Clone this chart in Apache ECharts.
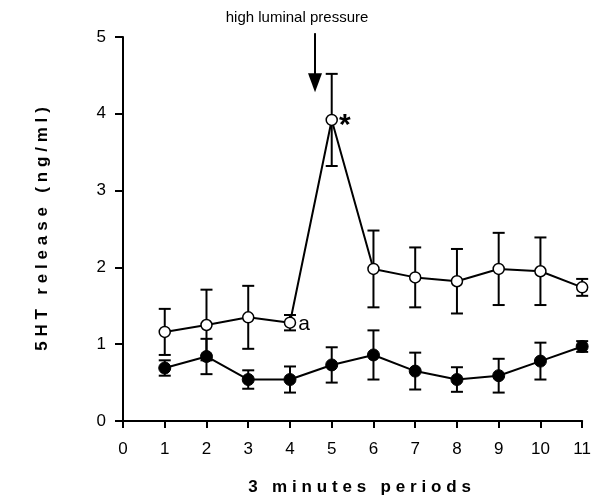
<!DOCTYPE html>
<html>
<head>
<meta charset="utf-8">
<script src="https://cdn.jsdelivr.net/npm/echarts@6/dist/echarts.min.js"></script>
<style>
  html, body { margin: 0; padding: 0; background: #fff; }
  #chart { width: 594px; height: 501px; }
</style>
</head>
<body>
<div id="chart"></div>
<script>
// periods (x)
var periods = [1, 2, 3, 4, 5, 6, 7, 8, 9, 10, 11];
// high luminal pressure group (open circles)
var highMean = [1.16, 1.25, 1.35, 1.28, 3.92, 1.98, 1.87, 1.82, 1.98, 1.95, 1.74];
var highErr  = [0.30, 0.46, 0.41, 0.10, 0.60, 0.50, 0.39, 0.42, 0.47, 0.44, 0.11];
// control group (filled circles)
var ctrlMean = [0.69, 0.84, 0.54, 0.54, 0.73, 0.86, 0.65, 0.54, 0.59, 0.78, 0.97];
var ctrlErr  = [0.10, 0.23, 0.12, 0.17, 0.23, 0.32, 0.24, 0.16, 0.22, 0.24, 0.07];

var chart = echarts.init(document.getElementById('chart'));

// spread letters out like the original bold axis titles
function spaced(s, gap) {
    return s.split('').join(gap);
}
function pairs(mean) {
    return periods.map(function (p, i) { return [p, mean[i]]; });
}
function errData(mean, err) {
    return periods.map(function (p, i) { return [p, mean[i] - err[i], mean[i] + err[i]]; });
}
function renderErr(params, api) {
    var lo = api.coord([api.value(0), api.value(1)]);
    var hi = api.coord([api.value(0), api.value(2)]);
    var w = 6;
    var st = { stroke: '#000', lineWidth: 2 };
    return {
        type: 'group',
        children: [
            { type: 'line', shape: { x1: hi[0], y1: hi[1], x2: lo[0], y2: lo[1] }, style: st },
            { type: 'line', shape: { x1: hi[0] - w, y1: hi[1], x2: hi[0] + w, y2: hi[1] }, style: st },
            { type: 'line', shape: { x1: lo[0] - w, y1: lo[1], x2: lo[0] + w, y2: lo[1] }, style: st }
        ]
    };
}

var highData = pairs(highMean).map(function (d, i) {
    var item = { value: d };
    if (i === 3) {
        item.label = { show: true, formatter: 'a', position: 'right', distance: 2,
            fontSize: 21, color: '#000', fontFamily: 'Liberation Sans', offset: [0, 2] };
    }
    if (i === 4) {
        item.label = { show: true, formatter: '*', position: 'right', distance: 1,
            fontSize: 30, fontWeight: 'bold', color: '#000', fontFamily: 'Liberation Sans', offset: [0, 6] };
    }
    return item;
});

var option = {
    animation: false,
    grid: { left: 123, right: 10, top: 37, bottom: 75 },
    xAxis: {
        type: 'value', min: 0, max: 11, interval: 1,
        name: spaced('3 minutes periods', '\u2009\u200a'), nameLocation: 'middle', nameGap: 58,
        nameTextStyle: { fontSize: 17, fontWeight: 'bold', color: '#000', fontFamily: 'Liberation Sans',
                         padding: [0, 0, 0, 14] },
        axisLine: { lineStyle: { color: '#000', width: 2 } },
        axisTick: { length: 7, lineStyle: { color: '#000', width: 2 } },
        axisLabel: { fontSize: 17, color: '#000', margin: 20, fontFamily: 'Liberation Sans' },
        splitLine: { show: false }
    },
    yAxis: {
        type: 'value', min: 0, max: 5, interval: 1,
        name: spaced('5HT release (ng/ml)', '\u2009\u200a'), nameLocation: 'middle', nameGap: 72,
        nameTextStyle: { fontSize: 17, fontWeight: 'bold', color: '#000', fontFamily: 'Liberation Sans' },
        axisLine: { lineStyle: { color: '#000', width: 2 } },
        axisTick: { length: 8, lineStyle: { color: '#000', width: 2 } },
        axisLabel: { fontSize: 17, color: '#000', margin: 17, fontFamily: 'Liberation Sans' },
        splitLine: { show: false }
    },
    series: [
        { type: 'custom', renderItem: renderErr, data: errData(highMean, highErr), z: 1, silent: true },
        { type: 'custom', renderItem: renderErr, data: errData(ctrlMean, ctrlErr), z: 1, silent: true },
        {
            type: 'line', data: highData, z: 3,
            symbol: 'circle', symbolSize: 11,
            lineStyle: { color: '#000', width: 2 },
            itemStyle: { color: '#fff', borderColor: '#000', borderWidth: 1.5 }
        },
        {
            type: 'line', data: pairs(ctrlMean), z: 3,
            symbol: 'circle', symbolSize: 12,
            lineStyle: { color: '#000', width: 2 },
            itemStyle: { color: '#000', borderColor: '#000' }
        }
    ]
};
chart.setOption(option);

// annotation: arrow + text
var arrowTop = chart.convertToPixel({ gridIndex: 0 }, [4.6, 5.05]);
var arrowTip = chart.convertToPixel({ gridIndex: 0 }, [4.6, 4.28]);
chart.setOption({
    graphic: [
        { type: 'text', x: arrowTop[0] - 18, y: 18,
          style: { text: 'high luminal pressure', fontSize: 15, fill: '#000', fontFamily: 'Liberation Sans',
                   align: 'center', verticalAlign: 'middle' } },
        { type: 'line', shape: { x1: arrowTop[0], y1: arrowTop[1], x2: arrowTip[0], y2: arrowTip[1] - 14 },
          style: { stroke: '#000', lineWidth: 2 } },
        { type: 'polygon', shape: { points: [[arrowTip[0] - 7, arrowTip[1] - 19], [arrowTip[0] + 7, arrowTip[1] - 19], [arrowTip[0], arrowTip[1]]] },
          style: { fill: '#000' } }
    ]
});
</script>
</body>
</html>
